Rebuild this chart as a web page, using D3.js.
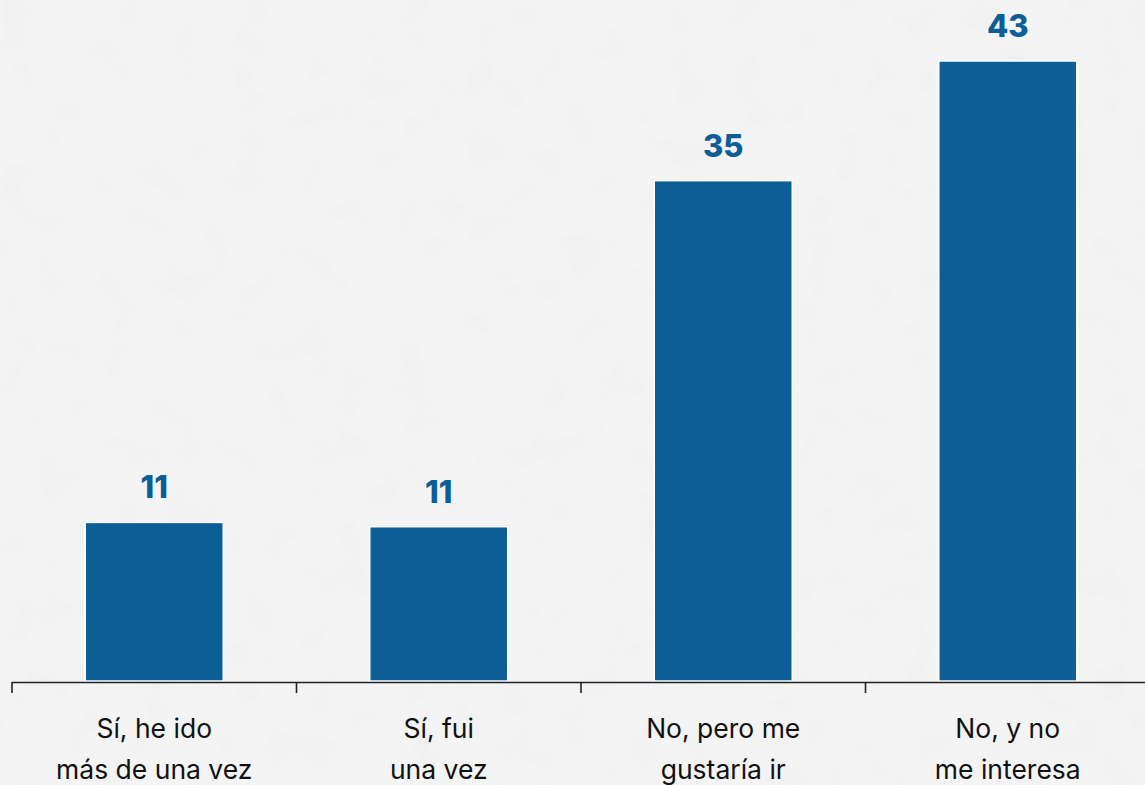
<!DOCTYPE html>
<html>
<head>
<meta charset="utf-8">
<script src="https://cdn.jsdelivr.net/npm/d3@7"></script>
<style>
  html, body { margin: 0; padding: 0; background: #f2f2f2; }
  svg { display: block; }
</style>
</head>
<body>
<script>
// data
const categories = [
  ["Sí, he ido", "más de una vez"],
  ["Sí, fui", "una vez"],
  ["No, pero me", "gustaría ir"],
  ["No, y no", "me interesa"]
];
const values = [11.0, 10.7, 34.7, 43.0];
const valueLabels = ["11", "11", "35", "43"];

var width = 1145,
    height = 785;

var svg = d3.select("body").append("svg")
    .attr("width", width)
    .attr("height", height);

// light paper texture
var defs = svg.append("defs");
var f = defs.append("filter").attr("id", "paper")
    .attr("x", 0).attr("y", 0).attr("width", "100%").attr("height", "100%");
f.append("feTurbulence").attr("type", "fractalNoise")
    .attr("baseFrequency", 0.03).attr("numOctaves", 3).attr("seed", 3);
f.append("feColorMatrix").attr("type", "matrix")
    .attr("values", "0 0 0 0 0.6  0 0 0 0 0.6  0 0 0 0 0.6  0 0 -1.2 0 0.62");
f.append("feComponentTransfer").append("feFuncA")
    .attr("type", "linear").attr("slope", 0.18);

svg.append("rect").attr("width", width).attr("height", height).attr("fill", "#f4f4f4");
svg.append("rect").attr("width", width).attr("height", height)
    .attr("filter", "url(#paper)");

var x = d3.scaleBand()
    .domain(d3.range(categories.length))
    .range([12, 1150])
    .paddingInner(0.515)
    .paddingOuter(0.2575);

var band = d3.scaleBand()
    .domain(d3.range(categories.length))
    .range([12, 1150]);

var y = d3.scaleLinear()
    .domain([0, 43])
    .range([681, 61]);

var blue = "#0c5e97";

svg.selectAll("rect.bar")
    .data(values)
    .enter().append("rect")
      .attr("class", "bar")
      .attr("x", function(d, i) { return x(i); })
      .attr("y", function(d) { return y(d); })
      .attr("width", x.bandwidth())
      .attr("height", function(d) { return y(0) - y(d); })
      .attr("fill", blue)
      .attr("stroke", "#ffffff")
      .attr("stroke-width", 1.5);

svg.selectAll("text.val")
    .data(values)
    .enter().append("text")
      .attr("class", "val")
      .attr("x", function(d, i) { return x(i) + x.bandwidth() / 2; })
      .attr("y", function(d) { return y(d) - 24; })
      .attr("text-anchor", "middle")
      .attr("font-family", "Inter, 'Open Sans', sans-serif")
      .attr("font-weight", 800)
      .attr("font-size", 31)
      .attr("fill", blue)
      .text(function(d, i) { return valueLabels[i]; });

// axis: baseline with ticks at band edges
var axisG = svg.append("g").attr("stroke", "#222").attr("stroke-width", 1.6);
axisG.append("line")
    .attr("x1", band.range()[0]).attr("x2", band.range()[1])
    .attr("y1", 682.5).attr("y2", 682.5);
axisG.selectAll("line.tick")
    .data(band.domain())
    .enter().append("line")
      .attr("class", "tick")
      .attr("x1", function(d) { return band(d); })
      .attr("x2", function(d) { return band(d); })
      .attr("y1", 682).attr("y2", 693);

var labels = svg.selectAll("text.cat")
    .data(categories)
    .enter().append("text")
      .attr("class", "cat")
      .attr("text-anchor", "middle")
      .attr("font-family", "Inter, 'Open Sans', sans-serif")
      .attr("font-size", 26.5)
      .attr("fill", "#111");

labels.selectAll("tspan")
    .data(function(d, i) { return d.map(function(t) { return { t: t, i: i }; }); })
    .enter().append("tspan")
      .attr("x", function(d) { return band(d.i) + band.bandwidth() / 2; })
      .attr("y", function(d, j) { return 738 + j * 41; })
      .text(function(d) { return d.t; });
</script>
</body>
</html>
